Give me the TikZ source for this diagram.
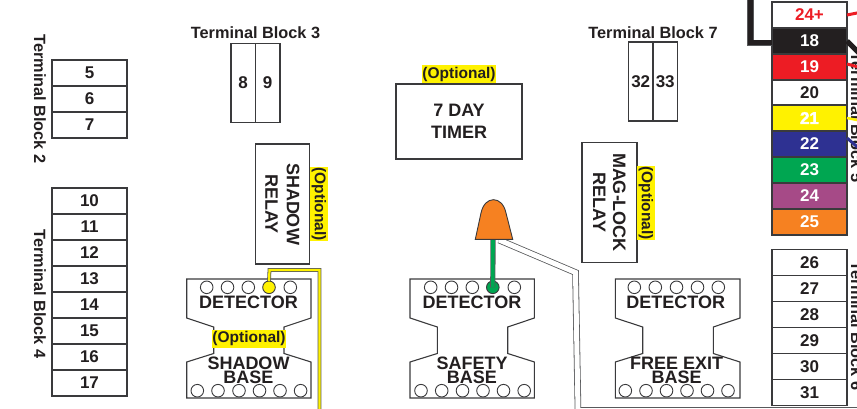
\documentclass[tikz,border=0pt]{standalone}
\usepackage{fontspec}
\setmainfont{Liberation Sans}
\usepackage{xcolor}
\usetikzlibrary{positioning}
\usetikzlibrary{calc}
\definecolor{ink}{HTML}{231F20}
\definecolor{edge}{HTML}{3A3A3C}
\definecolor{wireedge}{HTML}{58595B}
\definecolor{termred}{HTML}{ED1C24}
\definecolor{termyellow}{HTML}{FFF200}
\definecolor{termblue}{HTML}{2E3192}
\definecolor{termgreen}{HTML}{00A651}
\definecolor{termpurple}{HTML}{A64A87}
\definecolor{termorange}{HTML}{F68121}
\newcommand{\outlined}[1]{\special{pdf:code 2 Tr 0.6 G 0.35 w}\textcolor{white}{#1}\special{pdf:code 0 Tr 0 G}}
\begin{document}
\begin{tikzpicture}[x=1pt,y=-1pt,
  every node/.style={text=ink, inner sep=0, outer sep=0},
  lbl/.style={font=\fontsize{16.3}{18}\selectfont\bfseries},
  term/.style={draw=edge, line width=1.1, minimum width=75, minimum height=26, font=\fontsize{17}{20}\selectfont\bfseries},
  vterm/.style={draw=edge, line width=1.1, minimum width=24.5, minimum height=79, font=\fontsize{17}{20}\selectfont\bfseries},
  box/.style={draw=edge, line width=1.1, align=center, font=\fontsize{18}{21.5}\selectfont\bfseries},
  opt/.style={fill=termyellow, minimum width=73.5, minimum height=18, font=\fontsize{15.5}{18}\selectfont\bfseries},
  body/.style={draw=edge, line width=1.1},
  hole/.style={draw=edge, fill=white, line width=.9, circle, minimum size=12.6},
  capt/.style={align=center, font=\fontsize{18}{14}\selectfont\bfseries},
  wire/.style={draw=wireedge, line width=.8, double distance=#1, line join=miter}]
\clip (0,0) rectangle (857,409);

% terminal block 2
\node[term] (t5) at (89.5,73) {5};
\node[term] (t6) at (89.5,99) {6};
\node[term] (t7) at (89.5,125) {7};
\node[lbl, rotate=-90] (tb2) at (40,99) {Terminal Block 2};

% terminal block 4
\node[term] (t10) at (89.5,201) {10};
\node[term] (t11) at (89.5,227) {11};
\node[term] (t12) at (89.5,253) {12};
\node[term] (t13) at (89.5,279) {13};
\node[term] (t14) at (89.5,305) {14};
\node[term] (t15) at (89.5,331) {15};
\node[term] (t16) at (89.5,357) {16};
\node[term] (t17) at (89.5,383) {17};
\node[lbl, rotate=-90] (tb4) at (40,294) {Terminal Block 4};

% terminal block 3 and 7
\node[lbl] (tb3) at (255.5,32.5) {Terminal Block 3};
\node[vterm] (t8) at (243.2,83) {8};
\node[vterm] (t9) at (267.7,83) {9};
\node[lbl] (tb7) at (653,32.5) {Terminal Block 7};
\node[vterm] (t32) at (640.7,81.5) {32};
\node[vterm] (t33) at (665.2,81.5) {33};

% relays and timer
\node[box, rotate=-90, minimum width=120, minimum height=54.5] (shadowrelay) at (282.5,204) {SHADOW\\RELAY};
\node[opt, rotate=-90] (optshadow) at (319,204) {(Optional)};
\node[box, rotate=-90, minimum width=120, minimum height=55, font=\fontsize{18}{20}\selectfont\bfseries] (magrelay) at (609.5,202.5) {MAG-LOCK\\RELAY};
\node[opt, rotate=-90] (optmag) at (646,203) {(Optional)};
\node[box, minimum width=126, minimum height=75] (timer) at (459,121.5) {7 DAY\\TIMER};
\node[opt] (opttimer) at (459,74) {(Optional)};

% right hand column
\node[term] (t24p) at (809.5,15) {\textcolor{termred}{24+}};
\node[term, fill=ink] (t18) at (809.5,41) {\textcolor{white}{18}};
\node[term, fill=termred] (t19) at (809.5,67) {\textcolor{white}{19}};
\node[term] (t20) at (809.5,92.5) {20};
\node[term, fill=termyellow] (t21) at (809.5,118) {\outlined{21}};
\node[term, fill=termblue] (t22) at (809.5,144) {\textcolor{white}{22}};
\node[term, fill=termgreen] (t23) at (809.5,170) {\textcolor{white}{23}};
\node[term, fill=termpurple] (t24) at (809.5,196) {\textcolor{white}{24}};
\node[term, fill=termorange] (t25) at (809.5,222) {\textcolor{white}{25}};
\node[lbl, rotate=-90] (tb5) at (857,117.5) {Terminal Block 5};

\node[term] (t26) at (809.5,262.3) {26};
\node[term] (t27) at (809.5,288.3) {27};
\node[term] (t28) at (809.5,314.3) {28};
\node[term] (t29) at (809.5,340.3) {29};
\node[term] (t30) at (809.5,366.3) {30};
\node[term] (t31) at (809.5,392.3) {31};
\node[lbl, rotate=-90] (tb6) at (857,326) {Terminal Block 6};

% detector bases
\draw[body] (186.7,279) -- (311,279) -- (311,318) -- (284,327) -- (284,353.5) -- (311,362) -- (311,398) -- (186.7,398) -- (186.7,362) -- (213.7,353.5) -- (213.7,327) -- (186.7,318) -- cycle;
\draw[body] (410,279) -- (534.4,279) -- (534.4,318) -- (507.7,327) -- (507.7,353.5) -- (534.4,362) -- (534.4,398) -- (410,398) -- (410,362) -- (437.3,353.5) -- (437.3,327) -- (410,318) -- cycle;
\draw[body] (615.3,279) -- (740,279) -- (740,318) -- (713.3,327) -- (713.3,353.5) -- (740,362) -- (740,398) -- (615.3,398) -- (615.3,362) -- (642.7,353.5) -- (642.7,327) -- (615.3,318) -- cycle;

% holes
\path (206.7,287.3) node[hole] (a1) {} (227.5,287.3) node[hole] (a2) {} (248.3,287.3) node[hole] (a3) {} (269,287.3) node[hole, fill=termyellow] (a4) {} (290.3,287.3) node[hole] (a5) {};
\path (197.3,390.7) node[hole] (b1) {} (218,390.7) node[hole] (b2) {} (239,390.7) node[hole] (b3) {} (259.5,390.7) node[hole] (b4) {} (280,390.7) node[hole] (b5) {} (300.6,390.7) node[hole] (b6) {};
\path (430.7,287.3) node[hole] (c1) {} (451.5,287.3) node[hole] (c2) {} (472.3,287.3) node[hole] (c3) {} (492.8,287.3) node[hole, fill=termgreen] (c4) {} (514.3,287.3) node[hole] (c5) {};
\path (421,390.7) node[hole] (d1) {} (441.7,390.7) node[hole] (d2) {} (462.5,390.7) node[hole] (d3) {} (483,390.7) node[hole] (d4) {} (503.5,390.7) node[hole] (d5) {} (524.2,390.7) node[hole] (d6) {};
\path (634.3,287.3) node[hole] (e1) {} (655.3,287.3) node[hole] (e2) {} (676.5,287.3) node[hole] (e3) {} (697.5,287.3) node[hole] (e4) {} (718.3,287.3) node[hole] (e5) {};
\path (625.3,390.7) node[hole] (f1) {} (646,390.7) node[hole] (f2) {} (666.5,390.7) node[hole] (f3) {} (687,390.7) node[hole] (f4) {} (707.5,390.7) node[hole] (f5) {} (728,390.7) node[hole] (f6) {};

% captions
\node[capt] (det1) at (248.5,302.3) {DETECTOR};
\node[opt, minimum width=72.5] (optbase) at (249,338.8) {(Optional)};
\node[capt] (base1) at (248.5,370) {SHADOW\\BASE};
\node[capt] (det2) at (472,302.3) {DETECTOR};
\node[capt] (base2) at (472,370) {SAFETY\\BASE};
\node[capt] (det3) at (675.7,302.3) {DETECTOR};
\node[capt] (base3) at (676.7,370.5) {FREE EXIT\\BASE};

% lamp and wires
\coordinate (lamp) at (493,239);
\coordinate (lampw) at (499,240);
\coordinate (shw1) at (269.5,270);
\coordinate (shw2) at (319.5,270);
\coordinate (shw3) at (319.5,415);
\coordinate (lw1) at (575.5,272.5);
\coordinate (lw2) at (578,410.5);
\coordinate (lw3) at (870,410.5);
\coordinate (blk1) at (750.5,43);
\coordinate (blk2) at (750.5,-6);
\coordinate (blkr) at (862,56);
\coordinate (redr1) at (862,12);
\coordinate (redr2) at (862,68);
\coordinate (yelr) at (862,121);
\coordinate (blur) at (862,151);

\draw[wire=2.2, double=termyellow] (a4.north) -- (shw1) -- (shw2) -- (shw3);
\draw[wire=3.6, double=termgreen] (lamp) -- (c4.center);
\draw[wire=5, double=white] (lampw) -- (lw1) -- (lw2) -- (lw3);
\draw[fill=termorange, draw=edge, line width=.9] (475.3,239.3) -- (481,213) .. controls (483,204) and (488,199.7) .. (493.5,199.7) .. controls (499,199.7) and (504,204) .. (506,213) -- (512.7,239.3) -- cycle;

\draw[wire=5, double=ink] ($(t18.west)+(0,2)$) -- (blk1) -- (blk2);
\draw[ink, line width=5] (t18.east) -- (blkr);
\draw[termred, line width=3] (t24p.east) -- (redr1);
\draw[termred, line width=3] ($(t19.east)+(0,-3)$) -- (redr2);
\draw[termyellow, line width=2.5] (t21.east) -- (yelr);
\draw[termblue, line width=3] ($(t22.east)+(0,-6)$) -- (blur);
\end{tikzpicture}
\end{document}
